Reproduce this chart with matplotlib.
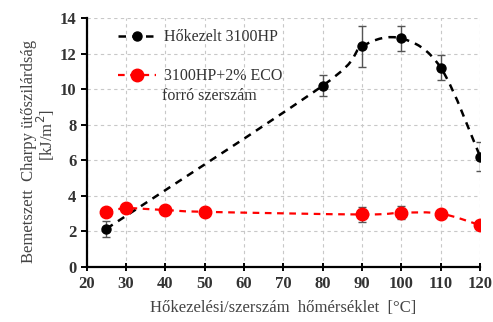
import numpy as np
import matplotlib.pyplot as plt
from matplotlib.path import Path
from matplotlib.patches import PathPatch

plt.rcParams['font.family'] = ['Liberation Serif', 'DejaVu Serif']

# Hőkezelt 3100HP
temp_hk = [25, 80, 90, 100, 110, 120]
charpy_hk = [2.15, 10.2, 12.4, 12.85, 11.2, 6.2]
err_hk = [0.45, 0.6, 1.15, 0.7, 0.7, 0.8]

# 3100HP+2% ECO, forró szerszám
temp_eco = [25, 30, 40, 50, 90, 100, 110, 120]
charpy_eco = [3.1, 3.3, 3.2, 3.1, 2.95, 3.05, 3.0, 2.35]
err_eco = [0.0, 0.0, 0.0, 0.0, 0.4, 0.35, 0.0, 0.0]


def smooth_path(x, y, tension=1 / 6):
    # Catmull-Rom style bezier through the points (like Excel smoothed lines)
    pts = np.column_stack([x, y]).astype(float)
    verts = [pts[0]]
    codes = [Path.MOVETO]
    for i in range(len(pts) - 1):
        p0 = pts[i - 1] if i > 0 else pts[i]
        p1 = pts[i]
        p2 = pts[i + 1]
        p3 = pts[i + 2] if i + 2 < len(pts) else pts[i + 1]
        c1 = p1 + (p2 - p0) * tension
        c2 = p2 - (p3 - p1) * tension
        verts += [c1, c2, p2]
        codes += [Path.CURVE4] * 3
    return Path(verts, codes)


fig = plt.figure(figsize=(4.93, 3.22), dpi=100)
ax = fig.add_axes([0.176, 0.171, 0.798, 0.773])

ax.add_patch(PathPatch(smooth_path(temp_hk, charpy_hk), fill=False,
                       edgecolor='black', lw=1.8, ls=(0, (3, 2.5)), zorder=3))
ax.add_patch(PathPatch(smooth_path(temp_eco, charpy_eco), fill=False,
                       edgecolor='#ff0000', lw=1.6, ls=(0, (3, 2.5)), zorder=3))

ax.errorbar(temp_hk, charpy_hk, yerr=err_hk, fmt='none', ecolor='#555555',
            elinewidth=1, capsize=3, zorder=2)
ax.errorbar(temp_eco, charpy_eco, yerr=err_eco, fmt='none', ecolor='#555555',
            elinewidth=1, capsize=3, zorder=2)
ax.plot(temp_hk, charpy_hk, 'o', color='black', ms=6.5, zorder=4)
ax.plot(temp_eco, charpy_eco, 'o', color='#ff0000', ms=9, zorder=4)

# legend proxies
ax.plot([], [], color='black', lw=1.8, ls=(0, (3, 2.5)), marker='o', ms=6.5,
        label='Hőkezelt 3100HP')
ax.plot([], [], color='#ff0000', lw=1.6, ls=(0, (3, 2.5)), marker='o', ms=9,
        label='3100HP+2% ECO')
leg = ax.legend(loc='upper left', frameon=False, fontsize=11.5,
                handlelength=2.4, handletextpad=0.5, labelspacing=1.45,
                borderaxespad=0.3, bbox_to_anchor=(0.05, 1.0))
for t in leg.get_texts():
    t.set_color('#333333')
ax.text(0.19, 0.685, 'forró szerszám', transform=ax.transAxes,
        fontsize=11.5, color='#333333', va='center', ha='left')

ax.set_xlim(20, 120)
ax.set_ylim(0, 14)
ax.set_xticks(np.arange(20, 121, 10))
ax.set_yticks(np.arange(0, 15, 2))
ax.grid(True, color='#c8c8c8', ls=(0, (3, 3)), lw=0.8)
ax.set_axisbelow(True)
for s in ['top', 'right']:
    ax.spines[s].set_visible(False)
for s in ['left', 'bottom']:
    ax.spines[s].set_linewidth(1.6)
ax.tick_params(axis='x', direction='inout', length=6, width=1.4)
ax.tick_params(axis='y', direction='out', length=4, width=1.4)
for lab in ax.get_xticklabels() + ax.get_yticklabels():
    lab.set_fontweight('bold')
    lab.set_fontsize(12)
    lab.set_color('#333333')

ax.set_xlabel('Hőkezelési/szerszám  hőmérséklet  [°C]', fontsize=12,
              color='#444444', labelpad=6)
fig.text(0.058, 0.53, 'Bemetszett  Charpy ütőszilárdság', rotation=90,
         ha='center', va='center', fontsize=12, color='#444444')
fig.text(0.093, 0.58, '[kJ/m$^2$]', rotation=90, ha='center', va='center',
         fontsize=12, color='#444444')

fig.savefig('out.png', dpi=100)
